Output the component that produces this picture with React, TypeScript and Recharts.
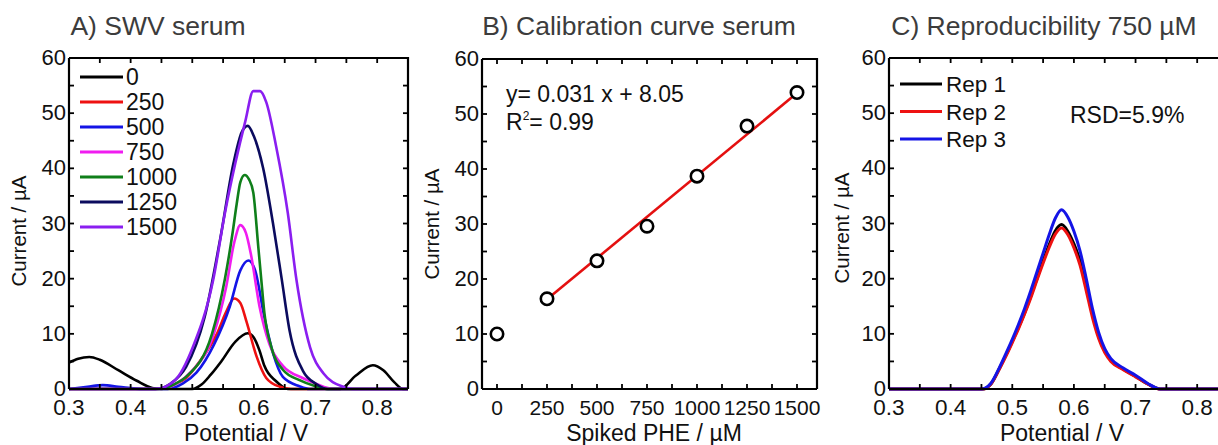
import React from 'react';
import { LineChart, Line, XAxis, YAxis, ComposedChart, Scatter } from 'recharts';

const FONT = '"Liberation Sans", Arial, Helvetica, sans-serif';

// ---------- Panel A: SWV serum (potential V, current µA) ----------
const swv0: [number, number][] = [
  [0.3, 4.8], [0.315, 5.5], [0.333, 5.8], [0.35, 5.3], [0.38, 3.4], [0.41, 1.5], [0.435, 0.2], [0.45, 0],
  [0.5, 0], [0.515, 0.8], [0.53, 2.6], [0.547, 5], [0.57, 8.6], [0.59, 10.1], [0.6, 9.3], [0.609, 7],
  [0.617, 4.2], [0.636, 1.4], [0.655, 0], [0.74, 0], [0.765, 2.4], [0.793, 4.3], [0.81, 3.4],
  [0.828, 1.2], [0.842, 0], [0.85, 0],
];
const swv250: [number, number][] = [
  [0.3, 0], [0.44, 0], [0.47, 0.8], [0.49, 2], [0.512, 5], [0.54, 10], [0.555, 14], [0.568, 16.4],
  [0.578, 15.6], [0.588, 12.2], [0.604, 6], [0.62, 2], [0.642, 0.4], [0.66, 0], [0.85, 0],
];
const swv500: [number, number][] = [
  [0.3, 0], [0.33, 0.4], [0.355, 0.7], [0.38, 0.4], [0.42, 0], [0.46, 0], [0.485, 1], [0.507, 3],
  [0.535, 8], [0.561, 15], [0.578, 21.5], [0.591, 23.3], [0.602, 21.5], [0.617, 13], [0.631, 6.5],
  [0.647, 2.2], [0.674, 0.5], [0.69, 0], [0.85, 0],
];
const swv750: [number, number][] = [
  [0.3, 0], [0.45, 0], [0.475, 1], [0.497, 3], [0.535, 10], [0.555, 18.5], [0.568, 26.5], [0.578, 29.7],
  [0.587, 28.3], [0.595, 24.5], [0.609, 15], [0.625, 8.2], [0.647, 4.2], [0.679, 2], [0.7, 1],
  [0.73, 0], [0.85, 0],
];
const swv1000: [number, number][] = [
  [0.3, 0], [0.45, 0], [0.47, 0.8], [0.49, 2.2], [0.532, 10], [0.553, 20], [0.565, 28], [0.572, 33.5],
  [0.578, 37.5], [0.585, 38.8], [0.592, 38], [0.599, 35.6], [0.607, 25.9], [0.612, 19.8],
  [0.617, 13.8], [0.628, 7.7], [0.647, 3.5], [0.674, 1.6], [0.7, 0.5], [0.72, 0], [0.85, 0],
];
const swv1250: [number, number][] = [
  [0.3, 0], [0.44, 0], [0.465, 1], [0.49, 4], [0.52, 13], [0.545, 27], [0.567, 41], [0.58, 46.5],
  [0.59, 47.7], [0.6, 45.8], [0.615, 40], [0.631, 30], [0.645, 20], [0.658, 10.5], [0.68, 3.2],
  [0.7, 1], [0.72, 0], [0.85, 0],
];
const swv1500: [number, number][] = [
  [0.3, 0], [0.44, 0], [0.472, 1.6], [0.501, 7.6], [0.534, 19.8], [0.553, 31.9], [0.57, 41],
  [0.586, 48.5], [0.599, 54], [0.61, 54], [0.62, 52], [0.636, 44], [0.655, 31.9], [0.669, 19.8],
  [0.691, 7.6], [0.713, 2.8], [0.745, 0.4], [0.76, 0], [0.85, 0],
];

const SWV_SERIES = [
  { name: '0', color: '#000000', pts: swv0 },
  { name: '250', color: '#ee1111', pts: swv250 },
  { name: '500', color: '#1414e6', pts: swv500 },
  { name: '750', color: '#f01cf0', pts: swv750 },
  { name: '1000', color: '#0f7f1a', pts: swv1000 },
  { name: '1250', color: '#0b0b5e', pts: swv1250 },
  { name: '1500', color: '#8a1ef0', pts: swv1500 },
];

// ---------- Panel B: calibration ----------
const calibPhe = [0, 250, 500, 750, 1000, 1250, 1500];
const calibCurrent = [10.0, 16.4, 23.3, 29.6, 38.7, 47.8, 53.9];
const fitPhe = [250, 1500];
const fitCurrent = [16.3, 53.8];

// ---------- Panel C: reproducibility ----------
const rep1: [number, number][] = [
  [0.3, 0], [0.452, 0], [0.466, 1], [0.48, 3.9], [0.49, 6.2], [0.5, 8.6], [0.51, 11.1], [0.52, 13.8],
  [0.53, 16.8], [0.54, 20], [0.55, 23.2], [0.56, 26.2], [0.57, 28.7], [0.58, 29.8], [0.59, 28.6],
  [0.6, 26.3], [0.61, 23.2], [0.62, 18.6], [0.63, 13.6], [0.64, 9.6], [0.65, 6.9], [0.66, 5.2],
  [0.68, 3.6], [0.7, 2.3], [0.72, 0.9], [0.74, 0], [0.85, 0],
];
const rep2: [number, number][] = [
  [0.3, 0], [0.452, 0], [0.466, 1], [0.48, 3.8], [0.49, 6], [0.5, 8.4], [0.51, 10.9], [0.52, 13.6],
  [0.53, 16.5], [0.54, 19.7], [0.55, 22.8], [0.56, 25.7], [0.57, 28.1], [0.58, 29.2], [0.59, 28],
  [0.6, 25.6], [0.61, 22.4], [0.62, 17.8], [0.63, 13], [0.64, 9.2], [0.65, 6.6], [0.66, 5],
  [0.68, 3.5], [0.7, 2.2], [0.72, 0.9], [0.74, 0], [0.85, 0],
];
const rep3: [number, number][] = [
  [0.3, 0], [0.45, 0], [0.465, 1], [0.48, 4.1], [0.49, 6.5], [0.5, 9], [0.51, 11.7], [0.52, 14.6],
  [0.53, 17.8], [0.54, 21.2], [0.55, 24.6], [0.56, 28], [0.57, 31], [0.58, 32.5], [0.59, 31.2],
  [0.6, 28.6], [0.61, 25], [0.62, 20], [0.63, 14.6], [0.64, 10.3], [0.65, 7.3], [0.66, 5.5],
  [0.68, 3.8], [0.7, 2.5], [0.72, 1], [0.74, 0], [0.85, 0],
];
const REP_SERIES = [
  { name: 'Rep 1', color: '#000000', pts: rep1 },
  { name: 'Rep 2', color: '#ee1111', pts: rep2 },
  { name: 'Rep 3', color: '#1414e6', pts: rep3 },
];

// ---------- ticks ----------
const potMajor = [0.3, 0.4, 0.5, 0.6, 0.7, 0.8];
const potMinor = [0.35, 0.45, 0.55, 0.65, 0.75, 0.85];
const potLabels = ['0.3', '0.4', '0.5', '0.6', '0.7', '0.8'];
const curMajor = [0, 10, 20, 30, 40, 50, 60];
const curMinor = [5, 15, 25, 35, 45, 55];
const curLabels = ['0', '10', '20', '30', '40', '50', '60'];
const pheMajor = [0, 250, 500, 750, 1000, 1250, 1500];
const pheMinor = [125, 375, 625, 875, 1125, 1375];
const pheLabels = ['0', '250', '500', '750', '1000', '1250', '1500'];

const potTicks = [...potMajor, ...potMinor];
const curTicks = [...curMajor, ...curMinor];
const pheTicks = [...pheMajor, ...pheMinor];

const TICK_LEN = 5;
const TICK_W = 1.8;
const labelFor = (v: number, major: number[], labels: string[]) => {
  const i = major.findIndex((m) => Math.abs(m - v) < 1e-6);
  return i >= 0 ? labels[i] : null;
};

// bottom tick: inward mark at the bottom and at the top of the frame (plotH above), label below
const bottomTick = (major: number[], labels: string[], fs: number, plotH: number) => (p: any) => {
  const lab = labelFor(p.payload.value, major, labels);
  const top = p.y - plotH;
  return (
    <g>
      <line x1={p.x} x2={p.x} y1={p.y} y2={p.y - TICK_LEN} stroke="#000" strokeWidth={TICK_W} />
      <line x1={p.x} x2={p.x} y1={top} y2={top + TICK_LEN} stroke="#000" strokeWidth={TICK_W} />
      {lab !== null && (
        <text x={p.x} y={p.y + 26} textAnchor="middle" fontFamily={FONT} fontSize={fs} fill="#111">
          {lab}
        </text>
      )}
    </g>
  );
};
// left tick: inward mark at the left and at the right edge (plotW to the right), label left
const leftTick = (major: number[], labels: string[], plotW: number) => (p: any) => {
  const lab = labelFor(p.payload.value, major, labels);
  const right = p.x + plotW;
  return (
    <g>
      <line x1={p.x} x2={p.x + TICK_LEN} y1={p.y} y2={p.y} stroke="#000" strokeWidth={TICK_W} />
      <line x1={right} x2={right - TICK_LEN} y1={p.y} y2={p.y} stroke="#000" strokeWidth={TICK_W} />
      {lab !== null && (
        <text x={p.x - 3} y={p.y + 7} textAnchor="end" fontFamily={FONT} fontSize={22} fill="#111">
          {lab}
        </text>
      )}
    </g>
  );
};

const AXIS_LINE = { stroke: '#000', strokeWidth: 2.2 };
const toXY = (pts: [number, number][]) => pts.map(([x, y]) => ({ x, y }));

const tickA = bottomTick(potMajor, potLabels, 22.5, 331);
const tickB = bottomTick(pheMajor, pheLabels, 21, 330);
const yTickAC = leftTick(curMajor, curLabels, 339);
const yTickB = leftTick(curMajor, curLabels, 335);

const OpenCircle = (p: any) => (
  <circle cx={p.cx} cy={p.cy} r={6.2} fill="#fff" stroke="#000" strokeWidth={2.6} />
);

const TITLE_FILL = '#3c3c3c';

export default function App() {
  const calibData = calibPhe.map((x, i) => ({ x, y: calibCurrent[i] }));
  const fitData = fitPhe.map((x, i) => ({ x, y: fitCurrent[i] }));
  return (
    <div
      style={{
        position: 'absolute',
        left: 0,
        top: 0,
        width: 1218,
        height: 445,
        overflow: 'hidden',
        background: '#fff',
        fontFamily: FONT,
      }}
    >
      {/* Panel A: plot 69..408 x 58..389 */}
      <div style={{ position: 'absolute', left: 0, top: 0 }}>
        <LineChart width={420} height={445} margin={{ top: 58, right: 12, bottom: 0, left: 9 }}>
          <XAxis dataKey="x" type="number" domain={[0.3, 0.85]} ticks={potTicks} interval={0} height={56}
            tickSize={0} tickMargin={0} tickLine={false} axisLine={AXIS_LINE} tick={tickA} />
          <YAxis type="number" domain={[0, 60]} ticks={curTicks} interval={0} width={60}
            tickSize={0} tickMargin={0} tickLine={false} axisLine={AXIS_LINE} tick={yTickAC} />
          {SWV_SERIES.map((s) => (
            <Line key={s.name} name={s.name} data={toXY(s.pts)} dataKey="y" type="monotone"
              stroke={s.color} strokeWidth={2.6} dot={false} activeDot={false} isAnimationActive={false} />
          ))}
        </LineChart>
      </div>

      {/* Panel B: plot 482..817 x 59..389 */}
      <div style={{ position: 'absolute', left: 420, top: 0 }}>
        <ComposedChart width={420} height={445} margin={{ top: 59, right: 23, bottom: 0, left: 2 }}>
          <XAxis dataKey="x" type="number" domain={[-75, 1600]} ticks={pheTicks} interval={0} height={56}
            tickSize={0} tickMargin={0} tickLine={false} axisLine={AXIS_LINE} tick={tickB} />
          <YAxis type="number" domain={[0, 60]} ticks={curTicks} interval={0} width={60}
            tickSize={0} tickMargin={0} tickLine={false} axisLine={AXIS_LINE} tick={yTickB} />
          <Line data={fitData} dataKey="y" type="linear" stroke="#e41010" strokeWidth={2.6}
            dot={false} activeDot={false} isAnimationActive={false} />
          <Scatter data={calibData} dataKey="y" shape={OpenCircle} isAnimationActive={false} />
        </ComposedChart>
      </div>

      {/* Panel C: plot 889..1228 x 58..389 (cut at the page edge) */}
      <div style={{ position: 'absolute', left: 829, top: 0 }}>
        <LineChart width={420} height={445} margin={{ top: 58, right: 21, bottom: 0, left: 0 }}>
          <XAxis dataKey="x" type="number" domain={[0.3, 0.85]} ticks={potTicks} interval={0} height={56}
            tickSize={0} tickMargin={0} tickLine={false} axisLine={AXIS_LINE} tick={tickA} />
          <YAxis type="number" domain={[0, 60]} ticks={curTicks} interval={0} width={60}
            tickSize={0} tickMargin={0} tickLine={false} axisLine={AXIS_LINE} tick={yTickAC} />
          {REP_SERIES.map((s) => (
            <Line key={s.name} name={s.name} data={toXY(s.pts)} dataKey="y" type="monotone"
              stroke={s.color} strokeWidth={3} dot={false} activeDot={false} isAnimationActive={false} />
          ))}
        </LineChart>
      </div>

      {/* Overlay: plot frames (top/right edges), titles, axis labels, legends, annotations */}
      <svg
        width={1218}
        height={445}
        style={{ position: 'absolute', left: 0, top: 0, pointerEvents: 'none' }}
        fontFamily={FONT}
      >
        <g fill="none" stroke="#000" strokeWidth={2.2}>
          <polyline points="69,58 408,58 408,389" />
          <polyline points="482,59 817,59 817,389" />
          <polyline points="889,58 1228,58 1228,389" />
        </g>

        <text x={158} y={35} textAnchor="middle" fontSize={26.5} fill={TITLE_FILL}>A) SWV serum</text>
        <text x={639} y={35} textAnchor="middle" fontSize={26.5} fill={TITLE_FILL}>B) Calibration curve serum</text>
        <text x={1044} y={35} textAnchor="middle" fontSize={26.5} fill={TITLE_FILL}>C) Reproducibility 750 µM</text>

        <text x={246} y={441} textAnchor="middle" fontSize={23} fill="#111">Potential / V</text>
        <text x={654} y={441} textAnchor="middle" fontSize={23} fill="#111">Spiked PHE / µM</text>
        <text x={1062} y={441} textAnchor="middle" fontSize={23} fill="#111">Potential / V</text>

        <text transform="translate(26,231) rotate(-90)" textAnchor="middle" fontSize={20.5} fill="#111">Current / µA</text>
        <text transform="translate(439,224) rotate(-90)" textAnchor="middle" fontSize={20.5} fill="#111">Current / µA</text>
        <text transform="translate(849,228) rotate(-90)" textAnchor="middle" fontSize={20.5} fill="#111">Current / µA</text>

        {SWV_SERIES.map((s, i) => (
          <g key={s.name}>
            <line x1={80} x2={123} y1={77 + i * 25} y2={77 + i * 25} stroke={s.color} strokeWidth={3} />
            <text x={126} y={77 + i * 25 + 8} fontSize={23} fill="#111">{s.name}</text>
          </g>
        ))}

        {REP_SERIES.map((s, i) => (
          <g key={s.name}>
            <line x1={900} x2={942} y1={84 + i * 27.5} y2={84 + i * 27.5} stroke={s.color} strokeWidth={3} />
            <text x={946} y={84 + i * 27.5 + 8} fontSize={22.5} fill="#111">{s.name}</text>
          </g>
        ))}

        <text x={506} y={102} fontSize={23} fill="#111">y= 0.031 x + 8.05</text>
        <text x={506} y={130} fontSize={23} fill="#111">
          R<tspan fontSize={12} dy={-10}>2</tspan>
          <tspan dy={10}>= 0.99</tspan>
        </text>
        <text x={1070} y={123} fontSize={23} fill="#111">RSD=5.9%</text>
      </svg>
    </div>
  );
}
